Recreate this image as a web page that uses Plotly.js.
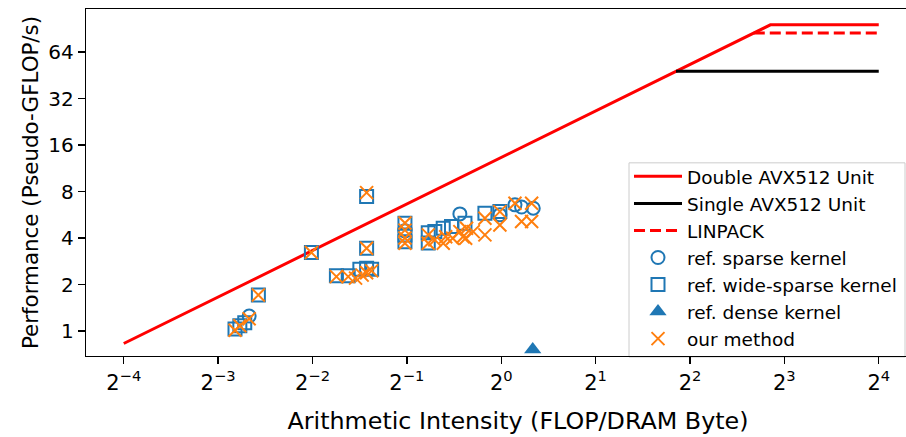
<!DOCTYPE html>
<html>
<head>
<meta charset="utf-8">
<script src="https://cdn.plot.ly/plotly-3.0.1.min.js"></script>
<style>
html, body { margin: 0; padding: 0; overflow: hidden; background: #fff; }
#chart { width: 964px; height: 437px; }
</style>
</head>
<body>
<div id="chart"></div>
<script>
// Roofline segments
const doubleX = [0.0625, 7.22, 16];
const doubleY = [0.83, 96, 96];
const singleX = [3.61, 16];
const singleY = [48, 48];
const linpackX = [6.39, 16];
const linpackY = [85, 85];

// ref. sparse kernel (circles)
const sparseX = [0.157, 0.493, 0.738, 0.990, 1.106, 1.161, 1.265];
const sparseY = [1.25, 4.45, 5.73, 5.65, 6.56, 6.35, 6.24];

// ref. wide-sparse kernel (squares)
const wideX = [0.1415, 0.1466, 0.152, 0.168, 0.248, 0.298, 0.325, 0.354, 0.372, 0.386,
               0.372, 0.372, 0.493, 0.493, 0.493, 0.585, 0.585, 0.614, 0.653, 0.694,
               0.766, 0.887, 0.990];
const wideY = [1.03, 1.08, 1.13, 1.71, 3.22, 2.28, 2.28, 2.51, 2.55, 2.51,
               7.42, 3.43, 4.99, 4.19, 3.79, 4.32, 3.72, 4.40, 4.63, 4.74,
               4.99, 5.79, 5.93];

// ref. dense kernel (triangle)
const denseX = [1.26];
const denseY = [0.76];

// our method (crosses)
const oursX = [0.1415, 0.1466, 0.157, 0.168, 0.248, 0.372, 0.372, 0.298, 0.325, 0.343,
               0.360, 0.372, 0.386, 0.493, 0.493, 0.493, 0.493, 0.585, 0.585, 0.614,
               0.653, 0.665, 0.700, 0.738, 0.755, 0.775, 0.770, 0.814, 0.887, 0.887,
               0.990, 0.990, 1.106, 1.161, 1.250, 1.250];
const oursY = [1.01, 1.08, 1.20, 1.71, 3.22, 7.87, 3.43, 2.25, 2.25, 2.20,
               2.30, 2.38, 2.45, 5.00, 4.50, 4.00, 3.70, 4.19, 3.70, 3.89,
               3.70, 4.08, 3.99, 4.40, 4.08, 4.63, 3.99, 4.40, 5.37, 4.19,
               5.93, 4.86, 6.72, 5.11, 6.72, 5.11];

// Axis ticks
const xTickVals = [0.0625, 0.125, 0.25, 0.5, 1, 2, 4, 8, 16];
const xTickText = ['2<sup>−4</sup>', '2<sup>−3</sup>', '2<sup>−2</sup>', '2<sup>−1</sup>',
                   '2<sup>0</sup>', '2<sup>1</sup>', '2<sup>2</sup>', '2<sup>3</sup>', '2<sup>4</sup>'];
const yTickVals = [1, 2, 4, 8, 16, 32, 64];
const yTickText = ['1', '2', '4', '8', '16', '32', '64'];

const blue = '#1f77b4';
const orange = '#ff7f0e';

const traces = [
  {x: doubleX, y: doubleY, mode: 'lines', name: 'Double AVX512 Unit', legendgroup: 'a',
   line: {color: '#ff0000', width: 3}},
  {x: singleX, y: singleY, mode: 'lines', name: 'Single AVX512 Unit', legendgroup: 'b',
   line: {color: '#000000', width: 3}},
  {x: linpackX, y: linpackY, mode: 'lines', name: 'LINPACK', legendgroup: 'c',
   line: {color: '#ff0000', width: 3, dash: '11px,5px'}},
  {x: sparseX, y: sparseY, mode: 'markers', name: 'ref. sparse kernel', legendgroup: 'd',
   marker: {symbol: 'circle-open', size: 13, color: blue, line: {width: 2, color: blue}}},
  {x: wideX, y: wideY, mode: 'markers', name: 'ref. wide-sparse kernel', legendgroup: 'e',
   marker: {symbol: 'square-open', size: 13, color: blue, line: {width: 2, color: blue}}},
  {x: denseX, y: denseY, mode: 'markers', name: 'ref. dense kernel', legendgroup: 'f',
   marker: {symbol: 'triangle-up', size: 15, color: blue, line: {width: 0}}},
  {x: oursX, y: oursY, mode: 'markers', name: 'our method', legendgroup: 'g',
   marker: {symbol: 'x-thin-open', size: 13, color: orange, line: {width: 2, color: orange}}}
];

const fontFam = 'DejaVu Sans, sans-serif';

// plot area in pixels: left 86, right 950, top 9.3, bottom 356
const plotL = 86, plotW = 864, plotB = 356, plotH = 346.7;
const px2x = p => (p - plotL) / plotW;
const px2y = p => (plotB - p) / plotH;

const layout = {
  width: 964, height: 437,
  margin: {l: 86, r: 14, t: 9.3, b: 81, pad: 0},
  paper_bgcolor: '#ffffff', plot_bgcolor: '#ffffff',
  font: {family: fontFam, color: '#000000', size: 20},
  showlegend: true,
  legend: {
    x: px2x(629), y: px2y(158), xanchor: 'left', yanchor: 'top',
    bgcolor: 'rgba(0,0,0,0)', borderwidth: 0,
    font: {family: fontFam, size: 18.5, color: '#000000'},
    tracegroupgap: 0, itemwidth: 48
  },
  shapes: [{
    type: 'rect', xref: 'paper', yref: 'paper', layer: 'below',
    x0: px2x(629), x1: px2x(905), y0: px2y(357), y1: px2y(163),
    line: {color: '#cccccc', width: 1}, fillcolor: 'rgba(255,255,255,0.8)'
  }],
  xaxis: {
    type: 'log', range: [Math.log10(2) * -4.4, Math.log10(2) * 4.755],
    tickmode: 'array', tickvals: xTickVals, ticktext: xTickText,
    ticks: 'outside', ticklen: 7, tickwidth: 1.3, tickcolor: '#000',
    showline: true, linecolor: '#000', linewidth: 1.3, mirror: true,
    showgrid: false, zeroline: false,
    tickfont: {family: fontFam, size: 21, color: '#000'},
    title: {text: 'Arithmetic Intensity (FLOP/DRAM Byte)', font: {family: fontFam, size: 23.8, color: '#000'}, standoff: 18}
  },
  yaxis: {
    type: 'log', range: [Math.log10(2) * -0.538, Math.log10(2) * 6.926],
    tickmode: 'array', tickvals: yTickVals, ticktext: yTickText,
    ticks: 'outside', ticklen: 7, tickwidth: 1.3, tickcolor: '#000',
    showline: true, linecolor: '#000', linewidth: 1.3, mirror: true,
    showgrid: false, zeroline: false,
    tickfont: {family: fontFam, size: 20, color: '#000'},
    title: {text: 'Performance (Pseudo-GFLOP/s)', font: {family: fontFam, size: 21.4, color: '#000'}, standoff: 3}
  }
};

Plotly.newPlot('chart', traces, layout, {displayModeBar: false, staticPlot: true});
</script>
</body>
</html>
